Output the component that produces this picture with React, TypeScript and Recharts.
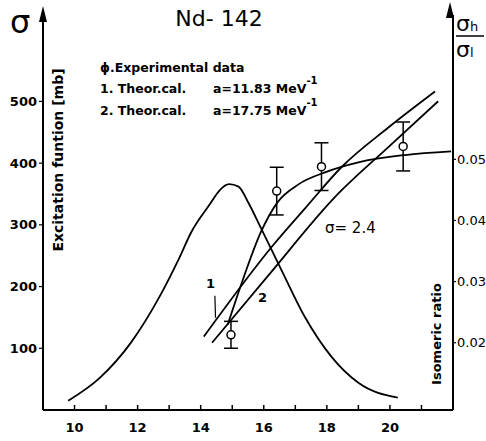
import { ComposedChart, Line, Scatter, ErrorBar, XAxis, YAxis, ReferenceLine } from 'recharts';

// excitation function (left axis, mb)
const excEnergy = [9.8, 10.8, 11.8, 12.7, 13.3, 13.7, 14.3, 14.6, 14.9, 15.2, 15.5, 15.9, 16.55, 17.3, 18.15, 19.0, 20.25];
const excSigma = [15, 52, 110, 184, 244, 288, 334, 356, 366, 362, 337, 296, 228, 151, 86, 44, 20];

// isomeric ratio, theor. cal. 1 (a = 11.83)
const theor1Energy = [14.1, 16.32, 17.33, 18.46, 19.95, 21.43];
const theor1Ratio = [0.021, 0.0361, 0.0421, 0.0487, 0.0552, 0.0611];

// isomeric ratio, theor. cal. 2 (a = 17.75)
const theor2Energy = [14.36, 16.16, 18.27, 19.95, 21.53];
const theor2Ratio = [0.02, 0.0311, 0.0439, 0.052, 0.0595];

// sigma = 2.4 curve
const sigEnergy = [14.86, 15.37, 15.9, 16.44, 17.1, 17.96, 19.0, 20.48, 21.94];
const sigRatio = [0.023, 0.0308, 0.038, 0.043, 0.0459, 0.0479, 0.0495, 0.0507, 0.0513];

// experimental data
const expEnergy = [14.96, 16.41, 17.83, 20.42];
const expRatio = [0.0213, 0.0448, 0.0488, 0.0521];
const expErr = [0.0022, 0.0039, 0.0039, 0.004];

const xTicks = [10, 11, 12, 13, 14, 15, 16, 17, 18, 19, 20, 21];
const leftTicks = [100, 200, 300, 400, 500];
const rightTicks = [0.02, 0.03, 0.04, 0.05];

const font = '"DejaVu Sans", sans-serif';

const bell = excEnergy.map((e, i) => ({ e, v: excSigma[i] }));
const theor1 = theor1Energy.map((e, i) => ({ e, r: theor1Ratio[i] }));
const theor2 = theor2Energy.map((e, i) => ({ e, r: theor2Ratio[i] }));
const sigma24 = sigEnergy.map((e, i) => ({ e, r: sigRatio[i] }));
const experiment = expEnergy.map((e, i) => ({ e, r: expRatio[i], err: expErr[i] }));

const OpenCircle = (props: any) => (
  <circle cx={props.cx} cy={props.cy} r={4} fill='#fff' stroke='#000' strokeWidth={1.5} />
);

const lineProps = {
  type: 'monotone' as const,
  dot: false,
  stroke: '#000',
  strokeWidth: 1.8,
  isAnimationActive: false,
  dataKey: 'r',
  yAxisId: 'r',
};

export default function App() {
  const axisLine = { stroke: '#000', strokeWidth: 2 };
  const tick = { fill: '#000', fontSize: 13, fontFamily: font, fontWeight: 'bold' };
  return (
    <div style={{ position: 'absolute', left: 0, top: 0, width: 486, height: 441, background: '#fff' }}>
      <ComposedChart width={486} height={441} margin={{ top: 15, right: 0, bottom: 0, left: 0 }}>
        <XAxis
          dataKey='e'
          type='number'
          domain={[9, 22]}
          ticks={xTicks}
          tickFormatter={v => (v % 2 === 0 ? String(v) : '')}
          height={31}
          axisLine={axisLine}
          tickLine={{ stroke: '#000', strokeWidth: 1.5 }}
          tickSize={-5}
          tickMargin={18}
          tick={tick}
          allowDataOverflow
        />
        <YAxis
          yAxisId='l'
          orientation='left'
          width={43}
          domain={[0, 640]}
          ticks={leftTicks}
          axisLine={axisLine}
          tickLine={{ stroke: '#000', strokeWidth: 1.2 }}
          tickSize={4}
          tickMargin={2}
          tick={tick}
          allowDataOverflow
        />
        <YAxis
          yAxisId='r'
          orientation='right'
          width={33}
          domain={[0.009, 0.0736]}
          ticks={rightTicks}
          tickFormatter={v => v.toFixed(2)}
          axisLine={axisLine}
          tickLine={{ stroke: '#000', strokeWidth: 1.2 }}
          tickSize={3}
          tickMargin={1}
          tick={{ ...tick, fontWeight: 'normal' }}
          allowDataOverflow
        />
        <Line data={bell} type='monotone' dataKey='v' yAxisId='l' dot={false} stroke='#000' strokeWidth={1.8} isAnimationActive={false} />
        <Line data={theor1} {...lineProps} />
        <Line data={theor2} {...lineProps} />
        <Line data={sigma24} {...lineProps} />
        <ReferenceLine
          yAxisId='r'
          segment={[{ x: 14.45, y: 0.0277 }, { x: 14.47, y: 0.0241 }]}
          stroke='#000'
          strokeWidth={1.2}
        />
        <Scatter data={experiment} dataKey='r' yAxisId='r' shape={OpenCircle} isAnimationActive={false}>
          <ErrorBar dataKey='err' direction='y' width={7} stroke='#000' strokeWidth={1.5} />
        </Scatter>
      </ComposedChart>
      <svg width={486} height={441} style={{ position: 'absolute', left: 0, top: 0, pointerEvents: 'none' }} fontFamily={font}>
        <polygon points='39,22 43,6 47,22' fill='#000' />
        <polygon points='446,18 450,2 454,18' fill='#000' />
        <text x={10} y={33} fontSize={32}>σ</text>
        <text x={219} y={26} fontSize={22} textAnchor='middle'>Nd- 142</text>
        <text x={456} y={31} fontSize={22}>σ<tspan fontSize={13}>h</tspan></text>
        <line x1={456} x2={484} y1={36} y2={36} stroke='#000' strokeWidth={1.5} />
        <text x={456} y={57} fontSize={22}>σ<tspan fontSize={13}>l</tspan></text>
        <g fontSize={12.5} fontWeight='bold'>
          <text x={100} y={72}>ϕ.Experimental data</text>
          <text x={100} y={93}>1. Theor.cal.</text>
          <text x={213} y={93}>a=11.83 MeV<tspan fontSize={10} dy={-9}>-1</tspan></text>
          <text x={100} y={115}>2. Theor.cal.</text>
          <text x={213} y={115}>a=17.75 MeV<tspan fontSize={10} dy={-9}>-1</tspan></text>
        </g>
        <text x={58} y={160} fontSize={14} fontWeight='bold' textAnchor='middle' dominantBaseline='central' transform='rotate(-90 58 160)'>Excitation funtion [mb]</text>
        <text x={436} y={334} fontSize={13} fontWeight='bold' textAnchor='middle' dominantBaseline='central' transform='rotate(-90 436 334)'>Isomeric ratio</text>
        <text x={325} y={233} fontSize={15}>σ= 2.4</text>
        <text x={206} y={288} fontSize={13} fontWeight='bold'>1</text>
        <text x={258} y={302} fontSize={13} fontWeight='bold'>2</text>
      </svg>
    </div>
  );
}
